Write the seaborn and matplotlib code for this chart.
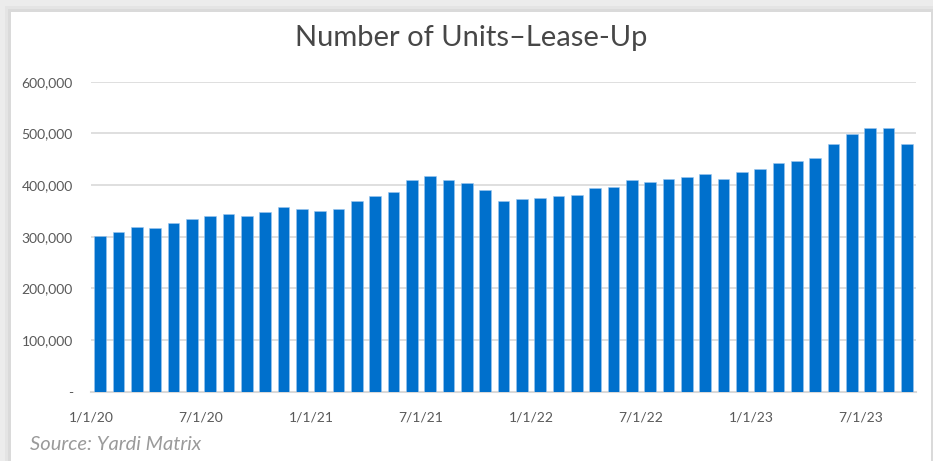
import matplotlib
matplotlib.use("Agg")
import matplotlib.pyplot as plt
import numpy as np
import pandas as pd
import seaborn as sns
from matplotlib.patches import Rectangle

# monthly units in lease-up, Jan 2020 - Sep 2023
months = pd.date_range("2020-01-01", "2023-09-01", freq="MS")
units = [
    301000, 310000, 319000, 316000, 326000, 335000, 341000, 344000, 341000, 347000, 357000, 353000,
    350000, 353000, 369000, 378000, 387000, 409000, 418000, 409000, 403000, 390000, 369000, 372000,
    375000, 378000, 381000, 394000, 396000, 409000, 406000, 412000, 415000, 421000, 412000, 425000,
    431000, 443000, 446000, 452000, 480000, 499000, 511000, 511000, 480000,
]
tick_labels = ["1/1/20", "7/1/20", "1/1/21", "7/1/21", "1/1/22", "7/1/22", "1/1/23", "7/1/23"]
y_ticks = [0, 100000, 200000, 300000, 400000, 500000, 600000]

df = pd.DataFrame({"month": months.strftime("%Y-%m"), "units": units})

sns.set_theme(style="white")
plt.rcParams["font.family"] = ["Lato", "DejaVu Sans"]

W, H = 933, 461
fig = plt.figure(figsize=(W / 100, H / 100), dpi=100, facecolor="#ececec")

# white card with a soft shadow, drawn in a background axes
bg = fig.add_axes([0, 0, 1, 1], zorder=-10)
bg.set_xlim(0, W)
bg.set_ylim(H, 0)
bg.axis("off")
bg.add_patch(Rectangle((5, 6), 929, 460, facecolor="#e4e4e4", edgecolor="none"))
bg.add_patch(Rectangle((8, 9), 925, 460, facecolor="#dadada", edgecolor="none"))
bg.add_patch(Rectangle((11, 12), 920, 460, facecolor="white", edgecolor="none"))

ax = fig.add_axes([91 / W, (H - 391.7) / H, (916 - 91) / W, (391.7 - 81.7) / H])
ax.set_facecolor("none")

sns.barplot(data=df, x="month", y="units", color="#0070CC", saturation=1, width=0.63,
            edgecolor="#9cc6ee", linewidth=0.4, ax=ax, zorder=3)

ax.set_ylim(0, 600000)
ax.set_xlim(-0.5, len(units) - 0.5)
ax.set_yticks(y_ticks)
ax.set_yticklabels(["-" if v == 0 else f"{v:,}" for v in y_ticks])
ax.yaxis.grid(True, color="#d9d9d9", linewidth=1.2, zorder=0)
ax.set_axisbelow(True)

ax.set_xticks(np.arange(0, len(units), 6) - 0.5)
ax.set_xticklabels(tick_labels)
ax.tick_params(axis="x", length=5, width=1, color="#d9d9d9", pad=9, labelsize=10, labelcolor="#595959")
ax.tick_params(axis="y", length=0, pad=13, labelsize=10, labelcolor="#595959")

for s in ["top", "right", "left"]:
    ax.spines[s].set_visible(False)
ax.spines["bottom"].set_color("#d9d9d9")
ax.spines["bottom"].set_linewidth(1.5)
ax.set_xlabel("")
ax.set_ylabel("")

fig.text(471 / W, 1 - 38 / H, "Number of Units\u2013Lease-Up", ha="center", va="center",
         fontsize=21, color="#474747")
fig.text(30 / W, 1 - 444 / H, "Source: Yardi Matrix", ha="left", va="center",
         fontsize=14.5, color="#9a9a9a", style="italic")

fig.savefig("out.png", dpi=100, facecolor=fig.get_facecolor())
